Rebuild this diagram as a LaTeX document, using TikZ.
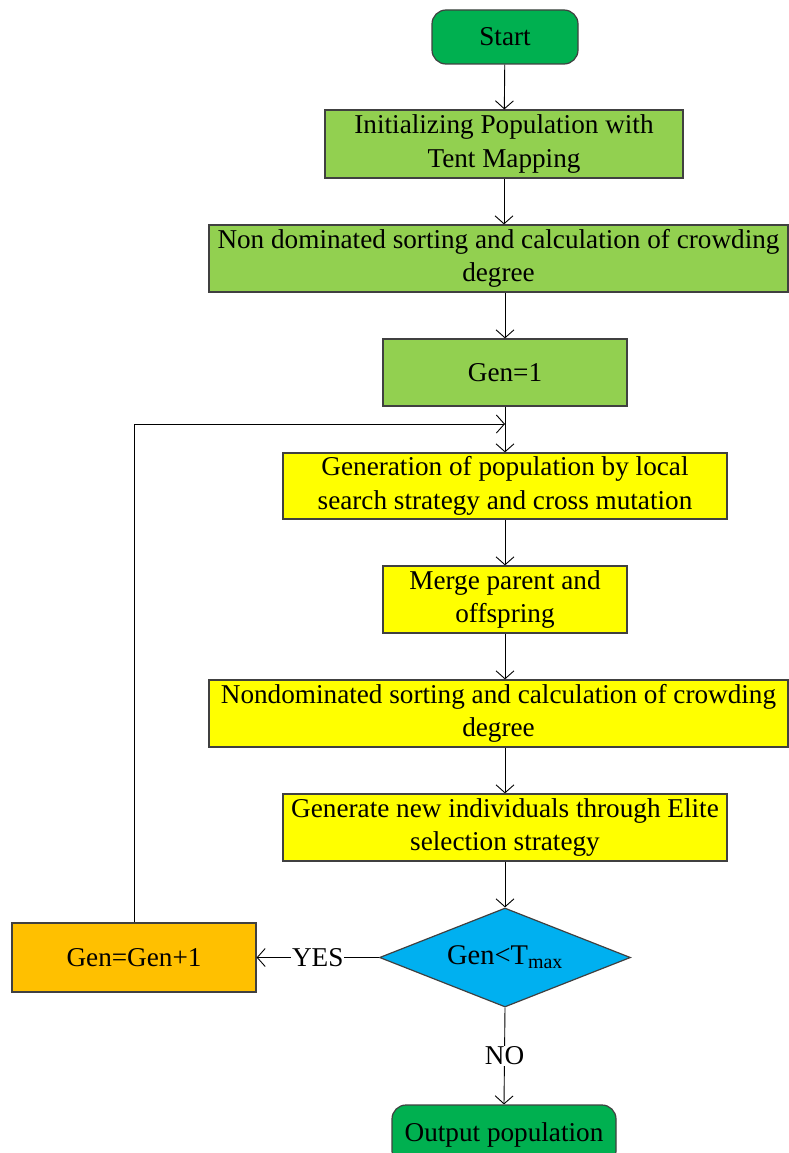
\documentclass[tikz,border=0pt]{standalone}
\usepackage{fontspec}
\setmainfont{Liberation Serif}
\usetikzlibrary{arrows.meta,shapes.geometric}
\definecolor{startgreen}{HTML}{00B050}
\definecolor{lightgreen}{HTML}{92D050}
\definecolor{boxyellow}{HTML}{FFFF00}
\definecolor{boxorange}{HTML}{FFC000}
\definecolor{boxblue}{HTML}{00B0F0}
\definecolor{edgegray}{HTML}{404040}
\tikzset{
  base/.style={draw=edgegray, line width=1.2pt, inner sep=0pt, align=center,
    font=\fontsize{27.2}{33.5}\selectfont},
  term/.style={base, rounded corners=14pt, fill=startgreen},
  gbox/.style={base, fill=lightgreen},
  ybox/.style={base, fill=boxyellow},
  obox/.style={base, fill=boxorange},
  dbox/.style={base, diamond, aspect=2.54, fill=boxblue},
  conn/.style={line width=0.9pt, -{Straight Barb[length=8pt,width=18pt,line width=0.9pt]}},
  plain/.style={line width=0.9pt},
  lbl/.style={fill=white, inner sep=1pt, font=\fontsize{27.2}{33}\selectfont}
}
\begin{document}
\begin{tikzpicture}[x=1pt,y=-1pt]
\useasboundingbox (0,0) rectangle (788,1153);
\node[term, minimum width=146pt, minimum height=54pt] (start) at (505,37) {Start};
\node[gbox, minimum width=358pt, minimum height=68pt] (init) at (504,144) {Initializing Population with\\Tent Mapping};
\node[gbox, minimum width=579pt, minimum height=67pt] (nd1) at (498.5,258.5) {Non dominated sorting and calculation of crowding\\degree};
\node[gbox, minimum width=244pt, minimum height=67pt] (gen1) at (505,372.5) {Gen=1};
\node[ybox, minimum width=444pt, minimum height=66pt] (genpop) at (505,486) {Generation of population by local\\search strategy and cross mutation};
\node[ybox, minimum width=244pt, minimum height=67pt] (merge) at (505,599.5) {Merge parent and\\offspring};
\node[ybox, minimum width=579pt, minimum height=67pt] (nd2) at (498.5,713.5) {Nondominated sorting and calculation of crowding\\degree};
\node[ybox, minimum width=444pt, minimum height=67pt] (elite) at (505,827.5) {Generate new individuals through Elite\\selection strategy};
\node[dbox, minimum width=251pt, minimum height=99pt] (dec) at (505,957.5) {\fontsize{28.5}{33}\selectfont Gen<T\textsubscript{max}};
\node[obox, minimum width=244pt, minimum height=69pt] (inc) at (134,957.5) {Gen=Gen+1};
\node[term, minimum width=224pt, minimum height=60pt] (out) at (504,1135) {Output population};
\coordinate (join) at (505,424);
\draw[conn] (start) -- (init);
\draw[conn] (init.south) -- (nd1.north -| init.south);
\draw[conn] (nd1.south -| gen1.north) -- (gen1);
\draw[plain] (gen1) -- (join);
\draw[conn] (join) -- (genpop);
\draw[conn] (inc.north) |- (join);
\draw[conn] (genpop) -- (merge);
\draw[conn] (merge) -- (nd2.north -| merge.south);
\draw[conn] (nd2.south -| elite.north) -- (elite);
\draw[conn] (elite.south) -- (dec.north);
\draw[conn] (dec.west) -- node[lbl] {YES} (inc.east);
\draw[conn] (dec.south) -- node[lbl, pos=0.5] {NO} (out.north);
\end{tikzpicture}
\end{document}
